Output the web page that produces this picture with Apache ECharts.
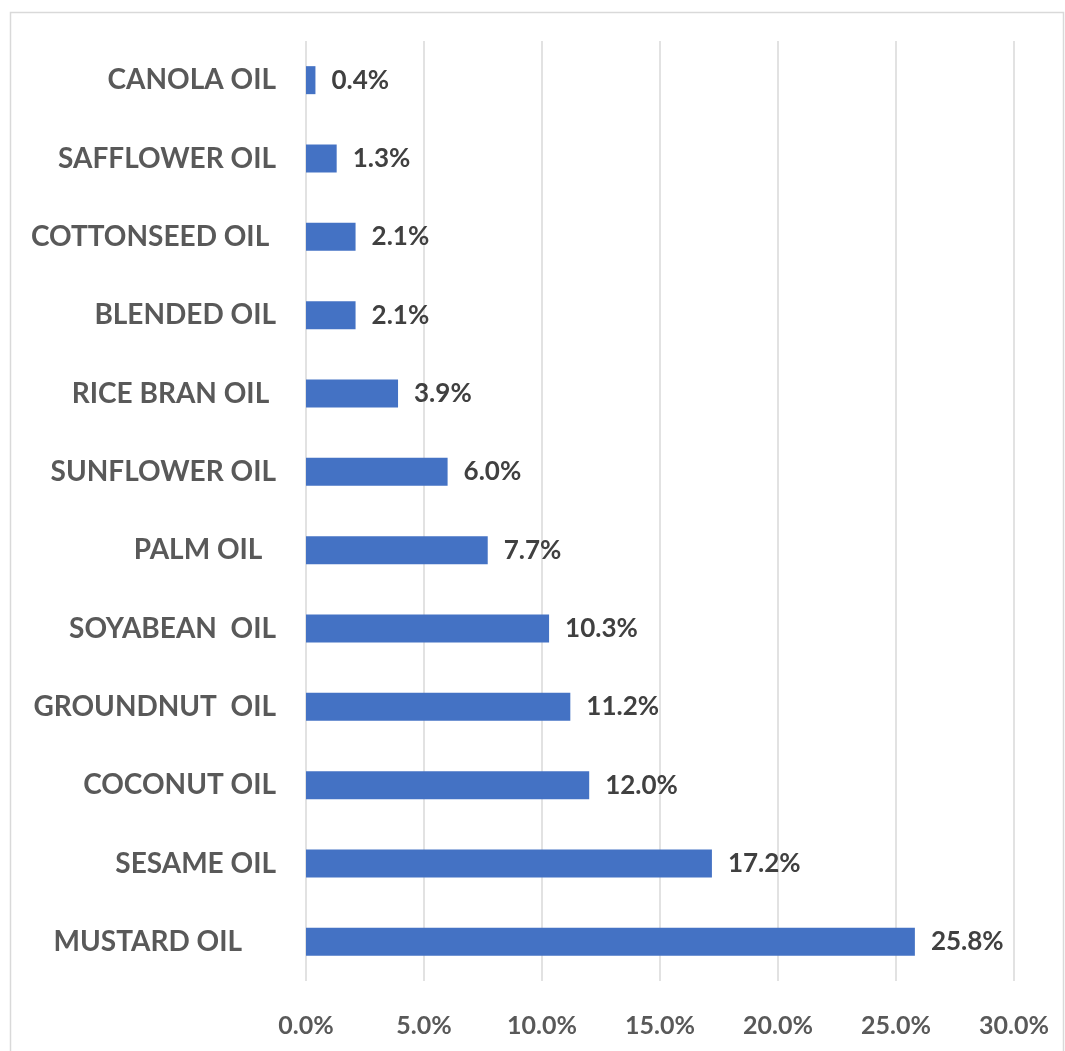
<!DOCTYPE html>
<html>
<head>
<meta charset="utf-8">
<script src="https://cdn.jsdelivr.net/npm/echarts@6/dist/echarts.min.js"></script>
<style>
  html, body { margin: 0; padding: 0; background: #ffffff; }
  #chart { width: 1065px; height: 1051px; }
</style>
</head>
<body>
<div id="chart"></div>
<script>
// Oil types, listed top to bottom
const oils = [
  'CANOLA OIL', 'SAFFLOWER OIL', 'COTTONSEED OIL ', 'BLENDED OIL', 'RICE BRAN OIL ',
  'SUNFLOWER OIL', 'PALM OIL  ', 'SOYABEAN  OIL', 'GROUNDNUT  OIL', 'COCONUT OIL',
  'SESAME OIL', 'MUSTARD OIL     '
];
// Share of each oil, in percent
const shares = [0.4, 1.3, 2.1, 2.1, 3.9, 6.0, 7.7, 10.3, 11.2, 12.0, 17.2, 25.8];
// Value axis range
const axisMin = 0;
const axisMax = 30;
const axisStep = 5;

const fontFamily = 'Lato, "Open Sans", sans-serif';
const chart = echarts.init(document.getElementById('chart'));

chart.setOption({
  backgroundColor: '#ffffff',
  animation: false,
  graphic: [{
    type: 'rect',
    shape: { x: 10.5, y: 12.5, width: 1053, height: 1060 },
    style: { fill: 'none', stroke: '#d9d9d9', lineWidth: 1.5 },
    silent: true
  }],
  grid: { left: 306, right: 51, top: 41, bottom: 70, containLabel: false },
  xAxis: {
    type: 'value',
    min: axisMin,
    max: axisMax,
    interval: axisStep,
    axisLine: { show: false },
    axisTick: { show: false },
    splitLine: { show: true, lineStyle: { color: '#d9d9d9', width: 1.5 } },
    axisLabel: {
      margin: 32,
      color: '#595959',
      fontFamily: fontFamily,
      fontWeight: 'bold',
      fontSize: 25,
      formatter: v => v.toFixed(1) + '%'
    }
  },
  yAxis: {
    type: 'category',
    data: oils,
    inverse: true,
    axisLine: { show: false },
    axisTick: { show: false },
    axisLabel: {
      margin: 30,
      color: '#595959',
      fontFamily: fontFamily,
      fontWeight: 'bold',
      fontSize: 28
    }
  },
  series: [{
    type: 'bar',
    data: shares,
    barWidth: 28,
    itemStyle: { color: '#4472c4' },
    label: {
      show: true,
      position: 'right',
      distance: 16,
      color: '#404040',
      fontFamily: fontFamily,
      fontWeight: 'bold',
      fontSize: 26,
      formatter: p => p.value.toFixed(1) + '%'
    }
  }]
});
</script>
</body>
</html>
